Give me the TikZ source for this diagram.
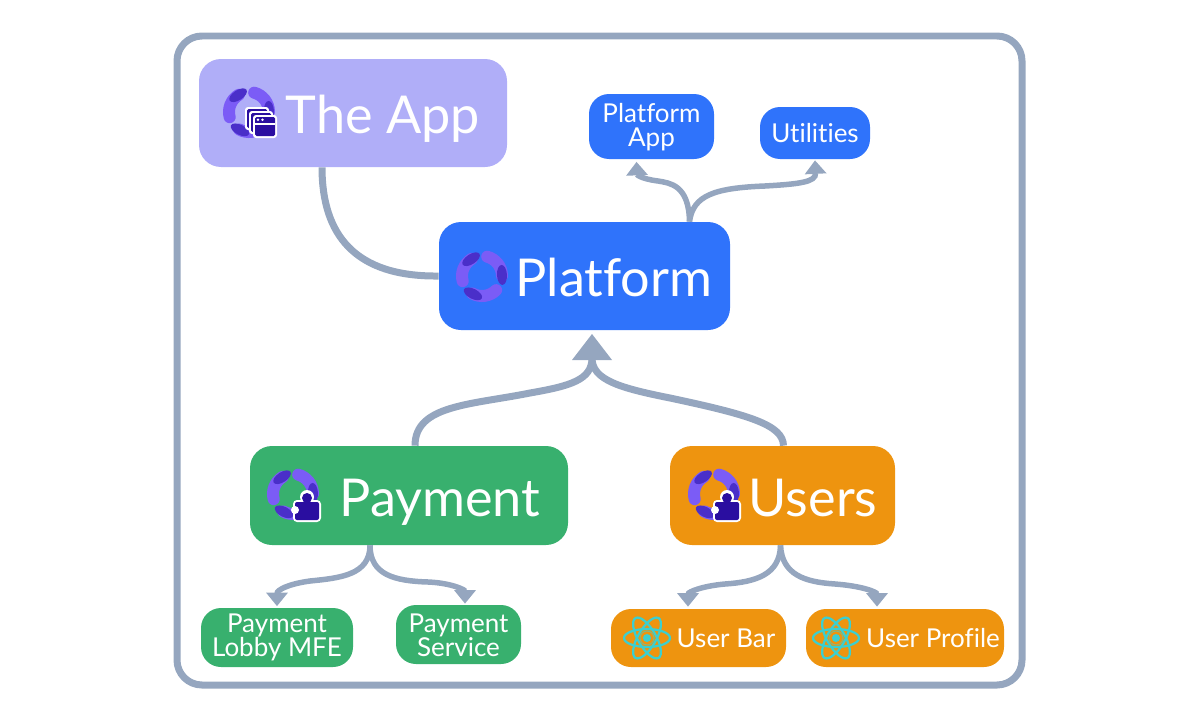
\documentclass[tikz,border=0pt]{standalone}
\usepackage{fontspec}
\setmainfont{Lato}[Ligatures=NoCommon]
\usetikzlibrary{arrows.meta}

\definecolor{framegray}{HTML}{95A6BF}
\definecolor{applilac}{HTML}{B0AEF8}
\definecolor{platblue}{HTML}{2F73FB}
\definecolor{paygreen}{HTML}{38B06E}
\definecolor{userorange}{HTML}{EE940F}
\definecolor{logolight}{HTML}{7B5CF6}
\definecolor{logodark}{HTML}{4A2FC9}
\definecolor{icondark}{HTML}{2A0EA0}
\definecolor{reactteal}{HTML}{3CCFCF}

\tikzset{
    box/.style 2 args={draw=none,rounded corners=#1*0.02cm,inner sep=0,text=white,minimum height=#2*0.02cm},
    bigtext/.style={text=white,font=\fontsize{29.7}{32}\selectfont,inner sep=0},
    smalltext/.style={text=white,font=\fontsize{14.8}{13.6}\selectfont,inner sep=0,align=center},
    conn/.style={draw=framegray,line width=0.11cm,-{Triangle[width=0.42cm,length=0.27cm]}},
    bigconn/.style={draw=framegray,line width=0.14cm},
    logo/.pic={
        \begin{scope}[x=0.02cm,y=0.02cm]
            \foreach \a in {-5,115,235} {
                \begin{scope}[rotate=\a]
                    \draw[logolight,line width=0.24cm,line cap=round] (80:20) arc[start angle=80,end angle=6,radius=20];
                    \fill[logodark,rotate=8] (20,0) ellipse (5 and 10);
                \end{scope}
            }
        \end{scope}
    },
    windows/.pic={
        \begin{scope}[x=0.02cm,y=0.02cm]
            \foreach \d in {0,4,8} {
                \fill[white,rounded corners=0.06cm] (\d-16,-\d+16) rectangle (\d+8,-\d-7);
                \fill[icondark,rounded corners=0.03cm] (\d-14,-\d+14) rectangle (\d+6,-\d-5);
            }
            \fill[white] (-6,0.5) rectangle (14,-1.5);
            \fill[white] (-3,3.2) circle (1.4) (1.5,3.2) circle (1.4);
        \end{scope}
    },
    puzzle/.pic={
        \begin{scope}[x=0.02cm,y=0.02cm]
            \fill[white,rounded corners=0.08cm] (-14,7) rectangle (14,-15);
            \fill[white] (0,10) circle (7);
            \fill[icondark,rounded corners=0.04cm] (-12,5) rectangle (12,-13);
            \fill[icondark] (0,9) circle (5);
            \fill[white] (-12,-3) circle (4);
        \end{scope}
    },
    react/.pic={
        \begin{scope}[x=0.02cm,y=0.02cm]
            \foreach \r in {0,60,120} {
                \draw[reactteal,line width=0.045cm,rotate=\r] (0,0) ellipse (23 and 9);
            }
            \fill[reactteal] (0,0) circle (4);
            \draw[reactteal!60!userorange,line width=0.02cm] (0,0) circle (7);
        \end{scope}
    },
}

\begin{document}
\begin{tikzpicture}[x=0.02cm,y=-0.02cm]
    \useasboundingbox (0,0) rectangle (1200,720);

    % Rahmen
    \draw[framegray,line width=0.14cm,rounded corners=0.5cm] (177,36) rectangle (1022,685);

    % Boxen
    \node[box={22}{108},minimum width=308*0.02cm,fill=applilac] (app) at (353,113) {};
    \node[box={22}{108},minimum width=291*0.02cm,fill=platblue] (platform) at (584.5,276) {};
    \node[box={22}{99},minimum width=318*0.02cm,fill=paygreen] (payment) at (409,495.5) {};
    \node[box={22}{99},minimum width=225*0.02cm,fill=userorange] (users) at (782.5,495.5) {};

    \node[box={20}{65},minimum width=125*0.02cm,fill=platblue] (platformapp) at (651.5,126.5) {};
    \node[box={20}{52},minimum width=110*0.02cm,fill=platblue] (utilities) at (815,133) {};
    \node[box={20}{59},minimum width=152*0.02cm,fill=paygreen] (lobby) at (277,637.5) {};
    \node[box={20}{59},minimum width=125*0.02cm,fill=paygreen] (service) at (458.5,634.5) {};
    \node[box={20}{58},minimum width=175*0.02cm,fill=userorange] (userbar) at (698.5,638) {};
    \node[box={20}{58},minimum width=198*0.02cm,fill=userorange] (userprofile) at (905,638) {};

    % Texte
    \node[bigtext] (apptext) at (383,119) {The App};
    \node[bigtext] (platformtext) at (614,277) {Platform};
    \node[bigtext] (paymenttext) at (440,502) {Payment};
    \node[bigtext] (userstext) at (813,498) {Users};
    \node[smalltext] (platformapptext) at (651.5,127.5) {Platform\\App};
    \node[smalltext] (utilitiestext) at (815,133) {Utilities};
    \node[smalltext] (lobbytext) at (277,637.5) {Payment\\Lobby MFE};
    \node[smalltext] (servicetext) at (458.5,635) {Payment\\Service};
    \node[smalltext] (userbartext) at (726,638) {User Bar};
    \node[smalltext] (userprofiletext) at (933,638) {User Profile};

    % Logos
    \pic at (249,112) {logo};
    \pic at (482,276) {logo};
    \pic at (293,494) {logo};
    \pic at (714,494) {logo};
    \pic at (261,123) {windows};
    \pic at (307,507) {puzzle};
    \pic at (727,507) {puzzle};
    \pic at (647,638) {react};
    \pic at (836,638) {react};

    % Verbindungen
    \draw[bigconn] ([xshift=-0.62cm]app.south) .. controls (322,235) and (355,277) .. (platform.west);

    \draw[conn] ([xshift=2.1cm]platform.north) .. controls (689,185) and (670,183) .. (658,181) .. controls (642,179) and (637,175) .. ([xshift=-0.3cm,yshift=-0.05cm]platformapp.south);
    \draw[conn] ([xshift=2.1cm]platform.north) .. controls (693,195) and (715,188) .. (765,186) .. controls (800,184) and (816,182) .. ([yshift=-0.02cm]utilities.south);

    \coordinate (arrowtip) at (592,334);
    \draw[bigconn] ([xshift=0.12cm]payment.north) .. controls (415,405) and (470,405) .. (530,393) .. controls (570,386) and (592,380) .. (592,358);
    \draw[bigconn] ([xshift=0.02cm]users.north) .. controls (783,425) and (750,415) .. (670,398) .. controls (620,388) and (592,380) .. (592,358);
    \fill[framegray] (arrowtip) -- (612,360) -- (572,360) -- cycle;

    \draw[conn] ([xshift=-0.78cm]payment.south) .. controls (370,575) and (340,578) .. (310,581) .. controls (288,584) and (277,590) .. ([yshift=0.03cm]lobby.north);
    \draw[conn] ([xshift=-0.78cm]payment.south) .. controls (370,575) and (395,581) .. (428,582) .. controls (452,583) and (465,590) .. ([xshift=0.13cm,yshift=0.02cm]service.north);
    \draw[conn] ([xshift=-0.04cm]users.south) .. controls (780,575) and (755,582) .. (725,584) .. controls (702,586) and (688,592) .. ([xshift=-0.21cm,yshift=0.04cm]userbar.north);
    \draw[conn] ([xshift=-0.04cm]users.south) .. controls (782,575) and (805,582) .. (835,584) .. controls (862,586) and (877,592) .. ([xshift=-0.56cm,yshift=0.04cm]userprofile.north);
\end{tikzpicture}
\end{document}
